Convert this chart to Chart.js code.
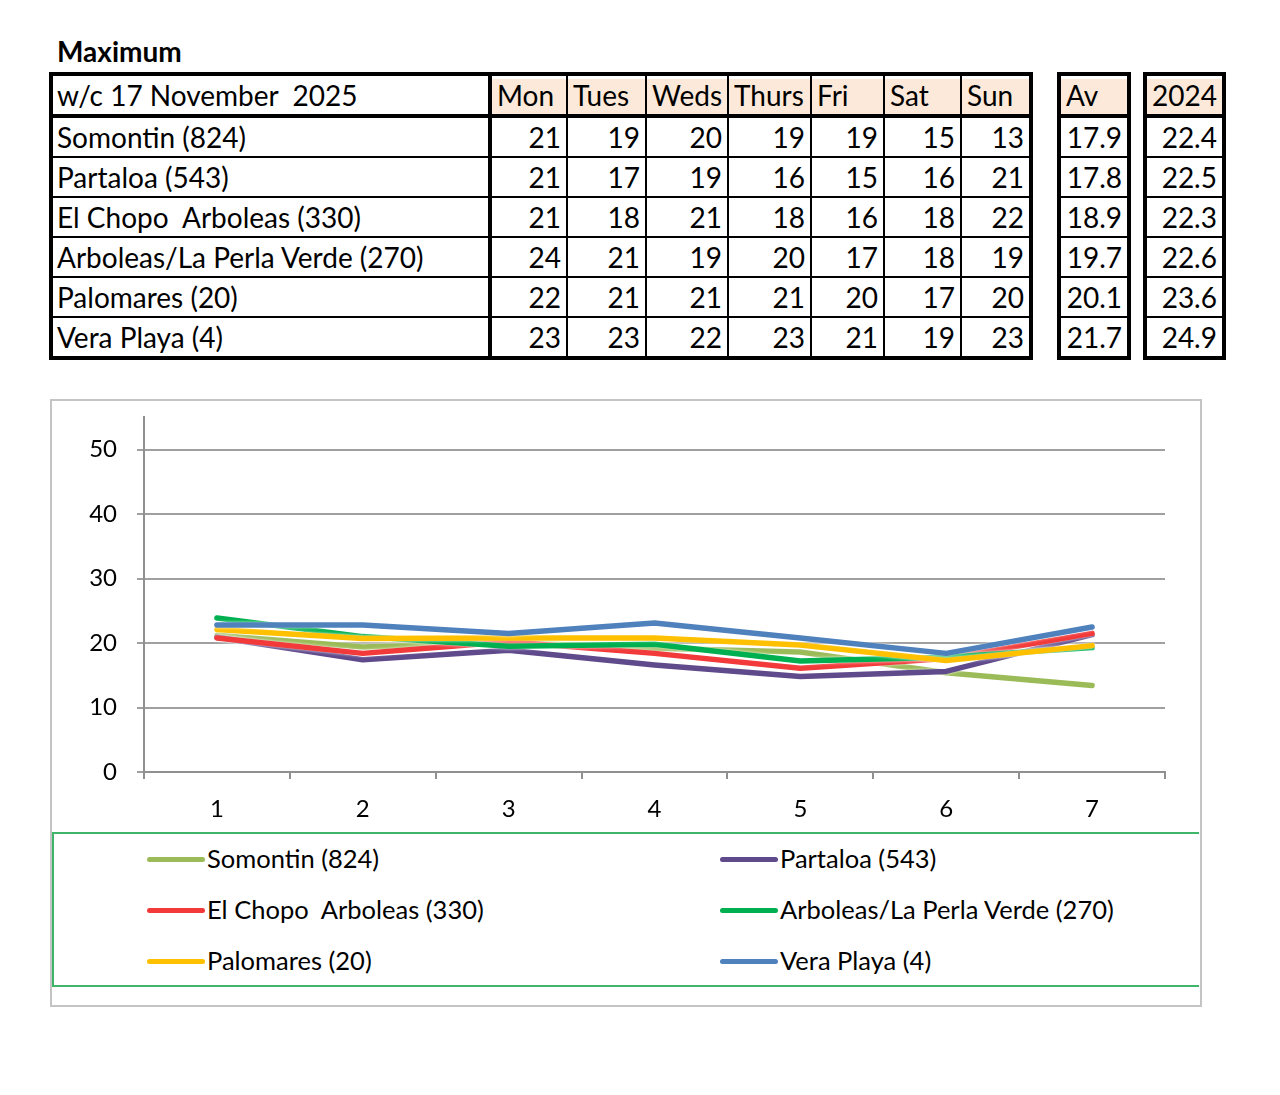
<!DOCTYPE html>
<html>
<head>
<meta charset="utf-8">
<script src="https://cdn.jsdelivr.net/npm/chart.js@4.4.1/dist/chart.umd.min.js"></script>
<style>
  body { margin: 0; background: #fff; width: 1280px; height: 1095px; position: relative; overflow: hidden;
         font-family: Lato, "Open Sans", sans-serif; color: #000; }
  #title { position: absolute; left: 57px; top: 34px; font-weight: bold; font-size: 28px; }
  table.t { position: absolute; top: 72px; border-collapse: collapse; table-layout: fixed;
            border: 4px solid #000; font-size: 28px; }
  table.t td { border: 2px solid #000; padding: 0 5px; white-space: pre; overflow: hidden; line-height: 1; }
  table.t tr.head td { height: 38px; border-bottom-width: 4px; }
  table.t tr.row td { height: 38px; }
  table.t td.num { text-align: right; }
  table.t td.peach { background: #fde9d9; box-shadow: inset 0 3px 0 #fff; }
  table.t td.name { border-right-width: 4px; padding-left: 4px; }
  #chartBox { position: absolute; left: 50px; top: 399px; width: 1148px; height: 604px; border: 2px solid #c4c4c4; }
  #chartWrap { position: absolute; left: 0px; top: -18px; width: 1140px; height: 447px; }
  #legend { position: absolute; left: 0px; top: 431px; width: 1145px; height: 151px; border: 2px solid #3fb56a; border-right: none; }
  .item { position: absolute; font-size: 25.5px; line-height: 1; white-space: pre; }
  .item .sw { display: inline-block; width: 58px; height: 5px; border-radius: 3px; vertical-align: middle; margin-right: 2px; position: relative; top: -2px; }
</style>
</head>
<body>
<div id="title">Maximum</div>
<div id="tables"></div>
<div id="chartBox">
  <div id="chartWrap"><canvas id="maxChart"></canvas></div>
  <div id="legend"></div>
</div>
<script>
const days = ["Mon", "Tues", "Weds", "Thurs", "Fri", "Sat", "Sun"];
const stations = ["Somontin (824)", "Partaloa (543)", "El Chopo  Arboleas (330)",
                  "Arboleas/La Perla Verde (270)", "Palomares (20)", "Vera Playa (4)"];

// table values (rounded daily maxima)
const maxSomontin = [21, 19, 20, 19, 19, 15, 13];
const maxPartaloa = [21, 17, 19, 16, 15, 16, 21];
const maxElChopo = [21, 18, 21, 18, 16, 18, 22];
const maxArboleas = [24, 21, 19, 20, 17, 18, 19];
const maxPalomares = [22, 21, 21, 21, 20, 17, 20];
const maxVeraPlaya = [23, 23, 22, 23, 21, 19, 23];
const weekAverage = [17.9, 17.8, 18.9, 19.7, 20.1, 21.7];
const lastYear = [22.4, 22.5, 22.3, 22.6, 23.6, 24.9];

// chart values (as plotted)
const xLabels = ["1", "2", "3", "4", "5", "6", "7"];
const lineSomontin = [21.2, 19.4, 20.1, 19.2, 18.6, 15.4, 13.4];
const linePartaloa = [20.9, 17.4, 18.9, 16.6, 14.8, 15.6, 21.3];
const lineElChopo = [20.8, 18.4, 20.2, 18.4, 16.1, 17.6, 21.5];
const lineArboleas = [23.9, 21.0, 19.5, 19.8, 17.2, 17.8, 19.3];
const linePalomares = [22.1, 20.7, 20.8, 20.8, 19.7, 17.3, 19.6];
const lineVeraPlaya = [22.8, 22.8, 21.5, 23.1, 20.8, 18.4, 22.5];

const colors = ["#9bbb59", "#5f4a8b", "#f23a3a", "#00b050", "#ffc000", "#4f81bd"];

/* ===== TABLES ===== */
const tableRows = [maxSomontin, maxPartaloa, maxElChopo, maxArboleas, maxPalomares, maxVeraPlaya];
const tables = document.getElementById("tables");

function makeTable(left, widths, headCells, bodyRows, opts) {
  const t = document.createElement("table");
  t.className = "t";
  t.style.left = left + "px";
  const cg = document.createElement("colgroup");
  widths.forEach(w => {
    const c = document.createElement("col");
    c.style.width = w + "px";
    cg.appendChild(c);
  });
  t.appendChild(cg);
  const hr = document.createElement("tr");
  hr.className = "head";
  headCells.forEach((h, i) => {
    const td = document.createElement("td");
    td.textContent = h;
    td.className = (opts.firstName && i === 0) ? "name" : "peach";
    hr.appendChild(td);
  });
  t.appendChild(hr);
  bodyRows.forEach(r => {
    const tr = document.createElement("tr");
    tr.className = "row";
    r.forEach((v, i) => {
      const td = document.createElement("td");
      td.textContent = v;
      td.className = (opts.firstName && i === 0) ? "name" : "num";
      tr.appendChild(td);
    });
    t.appendChild(tr);
  });
  tables.appendChild(t);
}

makeTable(49, [439, 77, 79, 79, 83, 73, 77, 70], ["w/c 17 November  2025"].concat(days),
  stations.map((s, i) => [s].concat(tableRows[i])), { firstName: true });
makeTable(1057, [70], ["Av"], weekAverage.map(v => [v.toFixed(1)]), {});
makeTable(1143, [78], ["2024"], lastYear.map(v => [v.toFixed(1)]), {});

/* ===== LINE CHART ===== */
const series = [lineSomontin, linePartaloa, lineElChopo, lineArboleas, linePalomares, lineVeraPlaya];

const glow = {
  id: "glow",
  beforeDatasetDraw(chart) {
    chart.ctx.save();
    chart.ctx.shadowColor = "rgba(255,255,255,0.95)";
    chart.ctx.shadowBlur = 3;
  },
  afterDatasetDraw(chart) {
    chart.ctx.restore();
  }
};

const maxChart = new Chart(document.getElementById("maxChart"), {
  type: "line",
  data: {
    labels: xLabels,
    datasets: series.map((d, i) => ({
      label: stations[i],
      data: d,
      borderColor: colors[i],
      backgroundColor: colors[i],
      borderWidth: 5.5,
      borderCapStyle: "round",
      borderJoinStyle: "round",
      pointRadius: 0,
      tension: 0,
      order: series.length - i
    }))
  },
  options: {
    responsive: true,
    maintainAspectRatio: false,
    animation: false,
    layout: { padding: { top: 10, right: 27, left: 0, bottom: 0 } },
    plugins: { legend: { display: false }, tooltip: { enabled: false } },
    scales: {
      x: {
        offset: true,
        grid: { offset: true, drawOnChartArea: false, color: "#909090", lineWidth: 2, tickLength: 7 },
        border: { color: "#909090", width: 2 },
        ticks: { color: "#000", font: { family: "Lato", size: 24 }, padding: 16 },
        afterFit(s) { s.height = 58; }
      },
      y: {
        min: 0,
        max: 55,
        ticks: {
          stepSize: 10,
          color: "#000",
          font: { family: "Lato", size: 24 },
          padding: 20,
          callback: v => (v % 10 === 0 ? v : "")
        },
        grid: {
          color: c => (c.tick && c.tick.value % 10 !== 0 ? "transparent" : "#a0a0a0"),
          lineWidth: 2,
          tickLength: 7
        },
        border: { color: "#909090", width: 2 },
        afterFit(s) { s.width = 92; }
      }
    }
  },
  plugins: [glow]
});

/* ===== LEGEND ===== */
const legend = document.getElementById("legend");
maxChart.data.datasets.forEach((ds, i) => {
  const it = document.createElement("div");
  it.className = "item";
  it.style.left = (i % 2 === 0 ? 93 : 666) + "px";
  it.style.top = (12 + Math.floor(i / 2) * 51) + "px";
  const sw = document.createElement("span");
  sw.className = "sw";
  sw.style.background = ds.borderColor;
  it.appendChild(sw);
  it.appendChild(document.createTextNode(ds.label));
  legend.appendChild(it);
});
</script>
</body>
</html>
